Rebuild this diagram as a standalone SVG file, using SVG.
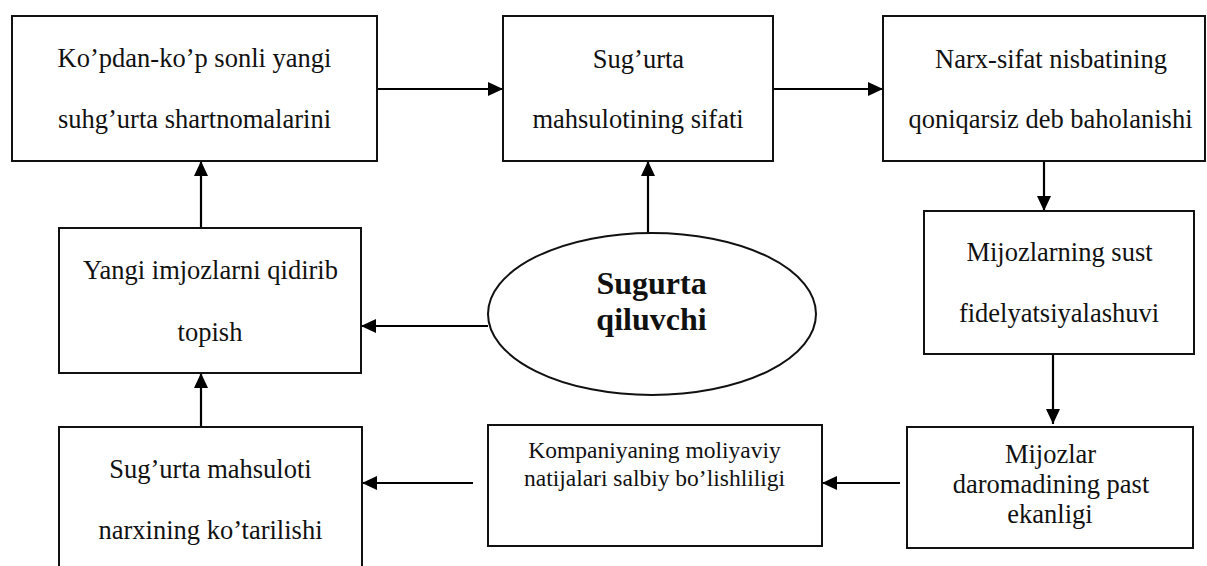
<svg xmlns="http://www.w3.org/2000/svg" width="1207" height="566" viewBox="0 0 1207 566">
<defs>
<marker id="ah" markerUnits="userSpaceOnUse" markerWidth="16" markerHeight="14" refX="15" refY="7" orient="auto">
<path d="M0,0 L15,7 L0,14 z" fill="#000"/>
</marker>
<style>
.box{fill:#fff;stroke:#111;stroke-width:2}
.t{font-family:"Liberation Serif","Times New Roman",serif;font-size:26.5px;fill:#111;text-anchor:middle}
.s{font-size:23.5px}
.b{font-family:"Liberation Serif","Times New Roman",serif;font-size:32px;font-weight:bold;fill:#111;text-anchor:middle}
.c{stroke:#000;stroke-width:2.2;fill:none;marker-end:url(#ah)}
</style>
</defs>
<rect width="1207" height="566" fill="#fff"/>
<g id="connectors">
<line class="c" x1="377" y1="89" x2="503" y2="89"/>
<line class="c" x1="773" y1="89" x2="883" y2="89"/>
<line class="c" x1="1044" y1="162" x2="1044" y2="211"/>
<line class="c" x1="1053" y1="354" x2="1053" y2="424"/>
<line class="c" x1="900" y1="483" x2="822" y2="483"/>
<line class="c" x1="473" y1="483" x2="362" y2="483"/>
<line class="c" x1="201" y1="427" x2="201" y2="373"/>
<line class="c" x1="201" y1="234" x2="201" y2="161"/>
<line class="c" x1="488" y1="326" x2="361" y2="326"/>
<line class="c" x1="648" y1="233" x2="648" y2="161"/>
</g>
<g id="n1">
<rect class="box" x="12" y="16" width="365" height="145"/>
<text class="t" x="194.5" y="67">Ko’pdan-ko’p sonli yangi</text>
<text class="t" x="194.5" y="128">suhg’urta shartnomalarini</text>
</g>
<g id="n2">
<rect class="box" x="503" y="16" width="270" height="145"/>
<text class="t" x="638.5" y="68">Sug’urta</text>
<text class="t" x="638" y="128">mahsulotining sifati</text>
</g>
<g id="n3">
<rect class="box" x="883" y="16" width="322" height="145"/>
<text class="t" x="1051" y="68">Narx-sifat nisbatining</text>
<text class="t" x="1050.5" y="128">qoniqarsiz deb baholanishi</text>
</g>
<g id="n4">
<rect class="box" x="924" y="211" width="270" height="143"/>
<text class="t" x="1059.5" y="261">Mijozlarning sust</text>
<text class="t" x="1059" y="322">fidelyatsiyalashuvi</text>
</g>
<g id="n5">
<rect class="box" x="907" y="427" width="286" height="121"/>
<text class="t" x="1050.5" y="463">Mijozlar</text>
<text class="t" x="1051" y="493">daromadining past</text>
<text class="t" x="1050" y="523">ekanligi</text>
</g>
<g id="n6">
<rect class="box" x="488" y="425" width="334" height="121"/>
<text class="t s" x="654.5" y="458">Kompaniyaning moliyaviy</text>
<text class="t s" x="654.5" y="486">natijalari salbiy bo’lishliligi</text>
</g>
<g id="n7">
<rect class="box" x="59" y="427" width="303" height="150"/>
<text class="t" x="210.5" y="478">Sug’urta mahsuloti</text>
<text class="t" x="210.5" y="539">narxining ko’tarilishi</text>
</g>
<g id="n8">
<rect class="box" x="59" y="228" width="302" height="145"/>
<text class="t" x="210.5" y="279">Yangi imjozlarni qidirib</text>
<text class="t" x="210" y="341">topish</text>
</g>
<g id="center">
<ellipse cx="652" cy="314" rx="164" ry="81" fill="#fff" stroke="#111" stroke-width="2"/>
<text class="b" x="651.5" y="294">Sugurta</text>
<text class="b" x="651.5" y="330">qiluvchi</text>
</g>
</svg>
